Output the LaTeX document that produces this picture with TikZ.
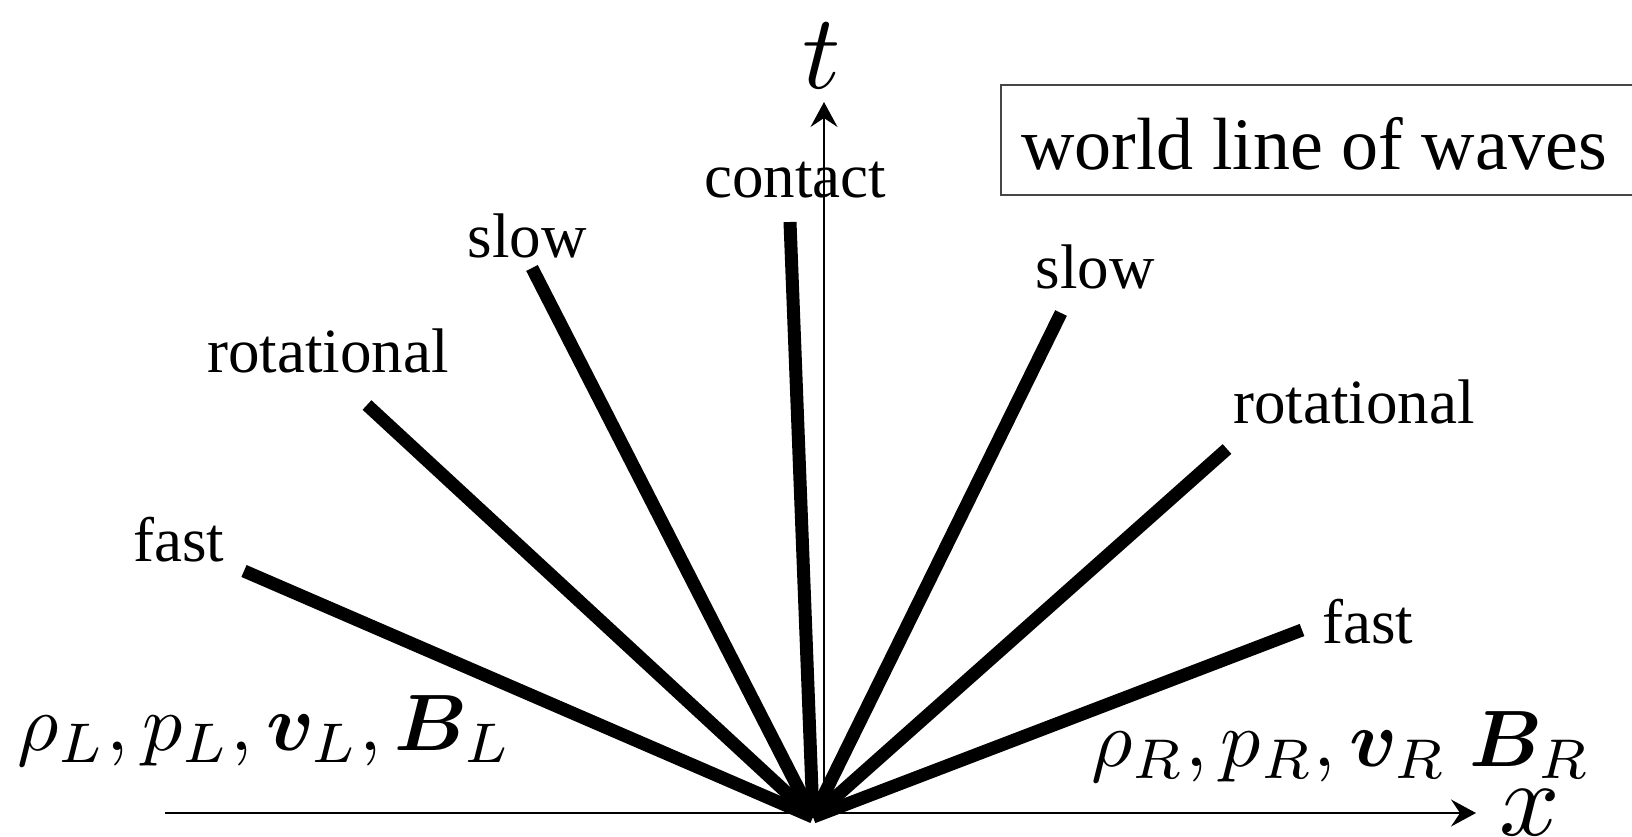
\documentclass[tikz,border=0pt]{standalone}
\usepackage{fontspec}
\setmainfont{Liberation Serif}
\usepackage{bm}
\usetikzlibrary{arrows.meta}
\begin{document}
\begin{tikzpicture}[x=1pt,y=-1pt,
  wave/.style={line width=13pt, line cap=butt},
  axisline/.style={line width=1.8pt, -{Stealth[length=25pt,width=27pt,inset=9pt]}},
  lbl/.style={inner sep=0pt, anchor=base, font=\fontsize{63}{70}\selectfont},
  boxtext/.style={inner sep=0pt, anchor=base, font=\fontsize{74}{80}\selectfont},
  mathlbl/.style={inner sep=0pt, anchor=base west, font=\normalsize, scale=8.0},
  axlbl/.style={inner sep=0pt, anchor=base, font=\normalsize, scale=10.6},
  boxline/.style={draw={rgb,255:red,70;green,70;blue,70}, line width=1.5pt}]
\useasboundingbox (0,0) rectangle (1632,836);
% axes
\coordinate (xs) at (165,813);
\coordinate (xe) at (1476,813);
\coordinate (ts) at (824,813);
\coordinate (te) at (824,102);
\draw[axisline] (xs) -- (xe);
\draw[axisline] (ts) -- (te);
\node[axlbl] (tl) at (822,88) {$t$};
\node[axlbl] (xl) at (1530,835) {$x$};
% wave lines
\coordinate (O) at (813,817);
\coordinate (fL) at (244,571);
\coordinate (rL) at (367,405);
\coordinate (sL) at (532,268);
\coordinate (cc) at (790,222);
\coordinate (sR) at (1061,313);
\coordinate (rR) at (1227,449);
\coordinate (fR) at (1302,630);
\foreach \e in {fL,rL,sL,cc,sR,rR,fR} \draw[wave] (O) -- (\e);
% labels
\node[lbl] (lfL) at (179,561) {fast};
\node[lbl] (lrL) at (328,372) {rotational};
\node[lbl] (lsL) at (527,257) {slow};
\node[lbl] (lc) at (795,197) {contact};
\node[lbl] (lsR) at (1095,288) {slow};
\node[lbl] (lrR) at (1354,423) {rotational};
\node[lbl] (lfR) at (1368,643) {fast};
% legend box
\draw[boxline] (1001,85) rectangle (1640,195);
\node[boxtext] (wl) at (1314,169) {world line of waves};
% states
\node[mathlbl] (SL) at (16,750) {$\rho_L,p_L,\bm{v}_L,\bm{B}_L$};
\node[mathlbl] (SR) at (1090,766) {$\rho_R,p_R,\bm{v}_R\hspace{0.28em}\bm{B}_R$};
\end{tikzpicture}
\end{document}
